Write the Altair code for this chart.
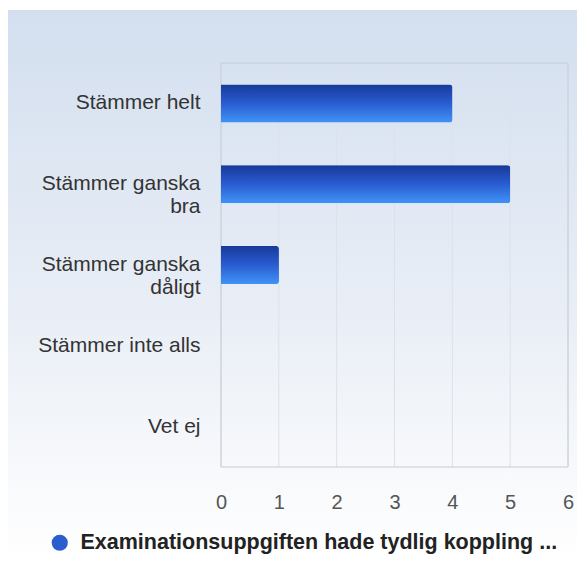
import altair as alt
import pandas as pd

categories = ["Stämmer helt", "Stämmer ganska bra", "Stämmer ganska dåligt", "Stämmer inte alls", "Vet ej"]
values = [4, 5, 1, 0, 0]
series_name = "Examinationsuppgiften hade tydlig koppling ..."
x_ticks = [0, 1, 2, 3, 4, 5, 6]

df = pd.DataFrame({"kategori": categories, "antal": values, "serie": [series_name] * len(categories)})
ticks_df = pd.DataFrame({"t": x_ticks})

W, H = 347, 404
PAD = {"left": 213, "top": 55, "right": 9, "bottom": 89}
FONT = "Liberation Sans"

bg_gradient = alt.LinearGradient(
    gradient="linear", x1=0, y1=0, x2=0, y2=1,
    stops=[alt.GradientStop(offset=0, color="#d3dfef"),
           alt.GradientStop(offset=0.55, color="#e9eef6"),
           alt.GradientStop(offset=1, color="#ffffff")],
)
bar_gradient = alt.LinearGradient(
    gradient="linear", x1=0, y1=0, x2=0, y2=1,
    stops=[alt.GradientStop(offset=0, color="#173a98"),
           alt.GradientStop(offset=0.45, color="#2858cc"),
           alt.GradientStop(offset=1, color="#3f93f7")],
)

background = alt.Chart(pd.DataFrame({"a": [0]})).mark_rect(fill=bg_gradient).encode(
    x=alt.value(-PAD["left"]), x2=alt.value(W + PAD["right"] + 5),
    y=alt.value(-53), y2=alt.value(H + PAD["bottom"] + 5),
)

x_scale = alt.Scale(domain=[0, 6], nice=False)

grid = alt.Chart(ticks_df).mark_rule(color="#dce1e9", strokeWidth=1).encode(
    x=alt.X("t:Q", scale=x_scale), y=alt.value(0), y2=alt.value(H),
)
frame = alt.Chart(pd.DataFrame({"a": [0]})).mark_rect(
    fill="transparent", stroke="#c6ccd4", strokeWidth=1
).encode(x=alt.value(0), x2=alt.value(W), y=alt.value(0), y2=alt.value(H))

y_enc = alt.Y(
    "kategori:N", sort=categories, title=None,
    scale=alt.Scale(paddingInner=0.53, paddingOuter=0.265),
    axis=alt.Axis(
        labelFont=FONT, labelFontSize=21, labelColor="#333333",
        labelPadding=21, ticks=False, domain=False, grid=False, labelLimit=250,
        labelLineHeight=23, zindex=1,
        labelExpr="indexof(datum.label, 'ganska ') >= 0 ? [substring(datum.label, 0, 14), substring(datum.label, 15)] : datum.label",
    ),
)
x_enc = alt.X(
    "antal:Q", title=None, scale=x_scale,
    axis=alt.Axis(
        values=x_ticks, format="d", labelFont=FONT, labelFontSize=20, labelColor="#555555",
        labelPadding=25, labelFlush=False, ticks=False, domain=False, grid=False, zindex=1,
    ),
)

legend_bars = alt.Chart(df).mark_bar(cornerRadiusEnd=3).encode(
    x=x_enc, y=y_enc,
    color=alt.Color(
        "serie:N", scale=alt.Scale(range=["#2a5ed0"]),
        legend=alt.Legend(
            title=None, orient="none", legendX=-172, legendY=469, padding=0,
            symbolType="circle", symbolSize=260, symbolStrokeWidth=0, symbolOpacity=1,
            labelFont=FONT, labelFontSize=21.5, labelFontWeight="bold",
            labelColor="#222222", labelLimit=700, labelOffset=10,
        ),
    ),
)
grad_bars = alt.Chart(df).mark_bar(cornerRadiusEnd=3, fill=bar_gradient).encode(
    x=alt.X("antal:Q", scale=x_scale), y=alt.Y("kategori:N", sort=categories),
)

chart = alt.layer(background, grid, frame, legend_bars, grad_bars).properties(
    width=W, height=H,
    autosize=alt.AutoSizeParams(type="none"),
    padding=PAD,
).configure_view(stroke=None).configure(background="white")

chart.save("out.html", embed_options={"renderer": "svg", "actions": False})
